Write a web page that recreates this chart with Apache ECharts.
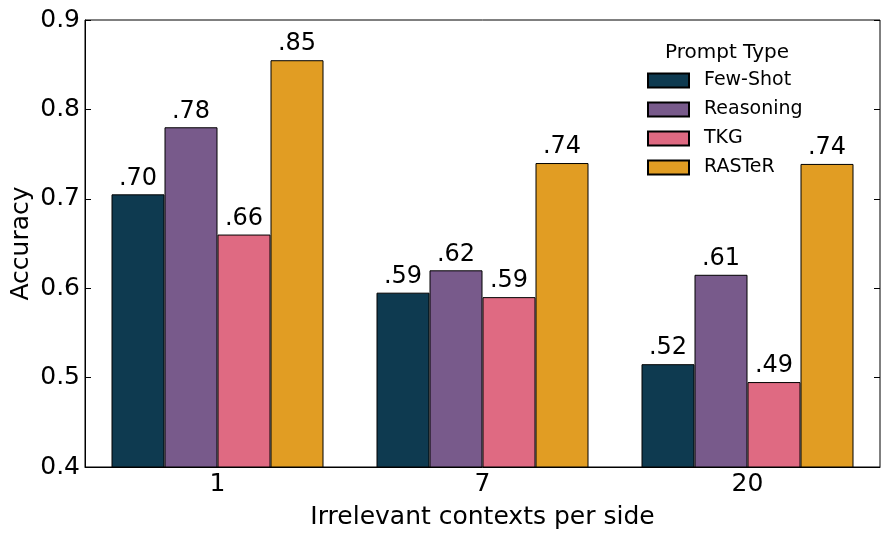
<!DOCTYPE html>
<html><head><meta charset="utf-8">
<script src="https://cdn.jsdelivr.net/npm/echarts@6/dist/echarts.min.js"></script>
<style>html,body{margin:0;padding:0;background:#fff}#c{width:896px;height:536px}</style>
</head><body><div id="c"></div>
<script>
const categories = ['1', '7', '20'];
const seriesNames = ['Few-Shot', 'Reasoning', 'TKG', 'RASTeR'];
const fewShot = [0.705, 0.595, 0.515];
const reasoning = [0.78, 0.62, 0.615];
const tkg = [0.66, 0.59, 0.495];
const raster = [0.855, 0.74, 0.739];
const fewShotLabels = ['.70', '.59', '.52'];
const reasoningLabels = ['.78', '.62', '.61'];
const tkgLabels = ['.66', '.59', '.49'];
const rasterLabels = ['.85', '.74', '.74'];
const yTicks = [0.4, 0.5, 0.6, 0.7, 0.8, 0.9];
const colors = ['#0e3a50', '#785a8b', '#df6a82', '#e19d23'];

const FONT = 'DejaVu Sans';
const values = [fewShot, reasoning, tkg, raster];
const labels = [fewShotLabels, reasoningLabels, tkgLabels, rasterLabels];

const chart = echarts.init(document.getElementById('c'), null, {renderer: 'canvas'});
const series = seriesNames.map((n, i) => ({
  name: n, type: 'bar', data: values[i],
  barGap: '0%', barCategoryGap: '20%',
  itemStyle: {color: colors[i], borderColor: '#000', borderWidth: 1},
  label: {show: true, position: 'top', distance: 4, color: '#000', fontFamily: FONT, fontSize: 24,
    formatter: p => labels[i][p.dataIndex]},
  emphasis: {disabled: true}
}));
chart.setOption({
  animation: false,
  textStyle: {fontFamily: FONT},
  grid: {left: 85, right: 16, top: 20, bottom: 69, containLabel: false, outerBoundsMode: 'none',
    show: true, borderColor: '#000', borderWidth: 1, backgroundColor: 'transparent'},
  title: {text: 'Prompt Type', left: 722, top: 38, textAlign: 'center',
    textStyle: {fontFamily: FONT, fontSize: 20, fontWeight: 'normal', color: '#000'}},
  legend: {orient: 'vertical', left: 642, top: 66, itemWidth: 41, itemHeight: 14, itemGap: 10,
    data: seriesNames, textStyle: {fontFamily: FONT, fontSize: 19, color: '#000', padding: [0,0,0,10]},
    icon: 'rect'},
  xAxis: [{
    type: 'category', data: categories, position: 'bottom',
    name: 'Irrelevant contexts per side', nameLocation: 'middle', nameGap: 38,
    nameTextStyle: {fontFamily: FONT, fontSize: 25, color: '#000'},
    axisLine: {lineStyle: {color: '#000'}},
    axisTick: {alignWithLabel: true, inside: true, length: 6, lineStyle: {color: '#000'}},
    axisLabel: {fontFamily: FONT, fontSize: 25, color: '#000', margin: 5}
  }, {
    type: 'category', data: categories, position: 'top',
    axisLine: {show: false},
    axisTick: {alignWithLabel: true, inside: true, length: 6, lineStyle: {color: '#000'}},
    axisLabel: {show: false}
  }],
  yAxis: [{
    type: 'value', min: 0.4, max: 0.9, interval: 0.1,
    name: 'Accuracy', nameLocation: 'middle', nameGap: 51, nameRotate: 90, nameMoveOverlap: false,
    nameTextStyle: {fontFamily: FONT, fontSize: 25, color: '#000'},
    axisLine: {show: true, lineStyle: {color: '#000'}},
    axisTick: {show: true, inside: true, length: 6, lineStyle: {color: '#000'}},
    splitLine: {show: false},
    axisLabel: {fontFamily: FONT, fontSize: 25, color: '#000', margin: 5,
      formatter: v => { const t = yTicks.find(x => Math.abs(x - v) < 1e-9); return t === undefined ? '' : t.toFixed(1); }}
  }, {
    type: 'value', min: 0.4, max: 0.9, interval: 0.1, position: 'right',
    axisLine: {show: false},
    axisTick: {show: true, inside: true, length: 6, lineStyle: {color: '#000'}},
    splitLine: {show: false}, axisLabel: {show: false}
  }],
  series: series
});
</script></body></html>
